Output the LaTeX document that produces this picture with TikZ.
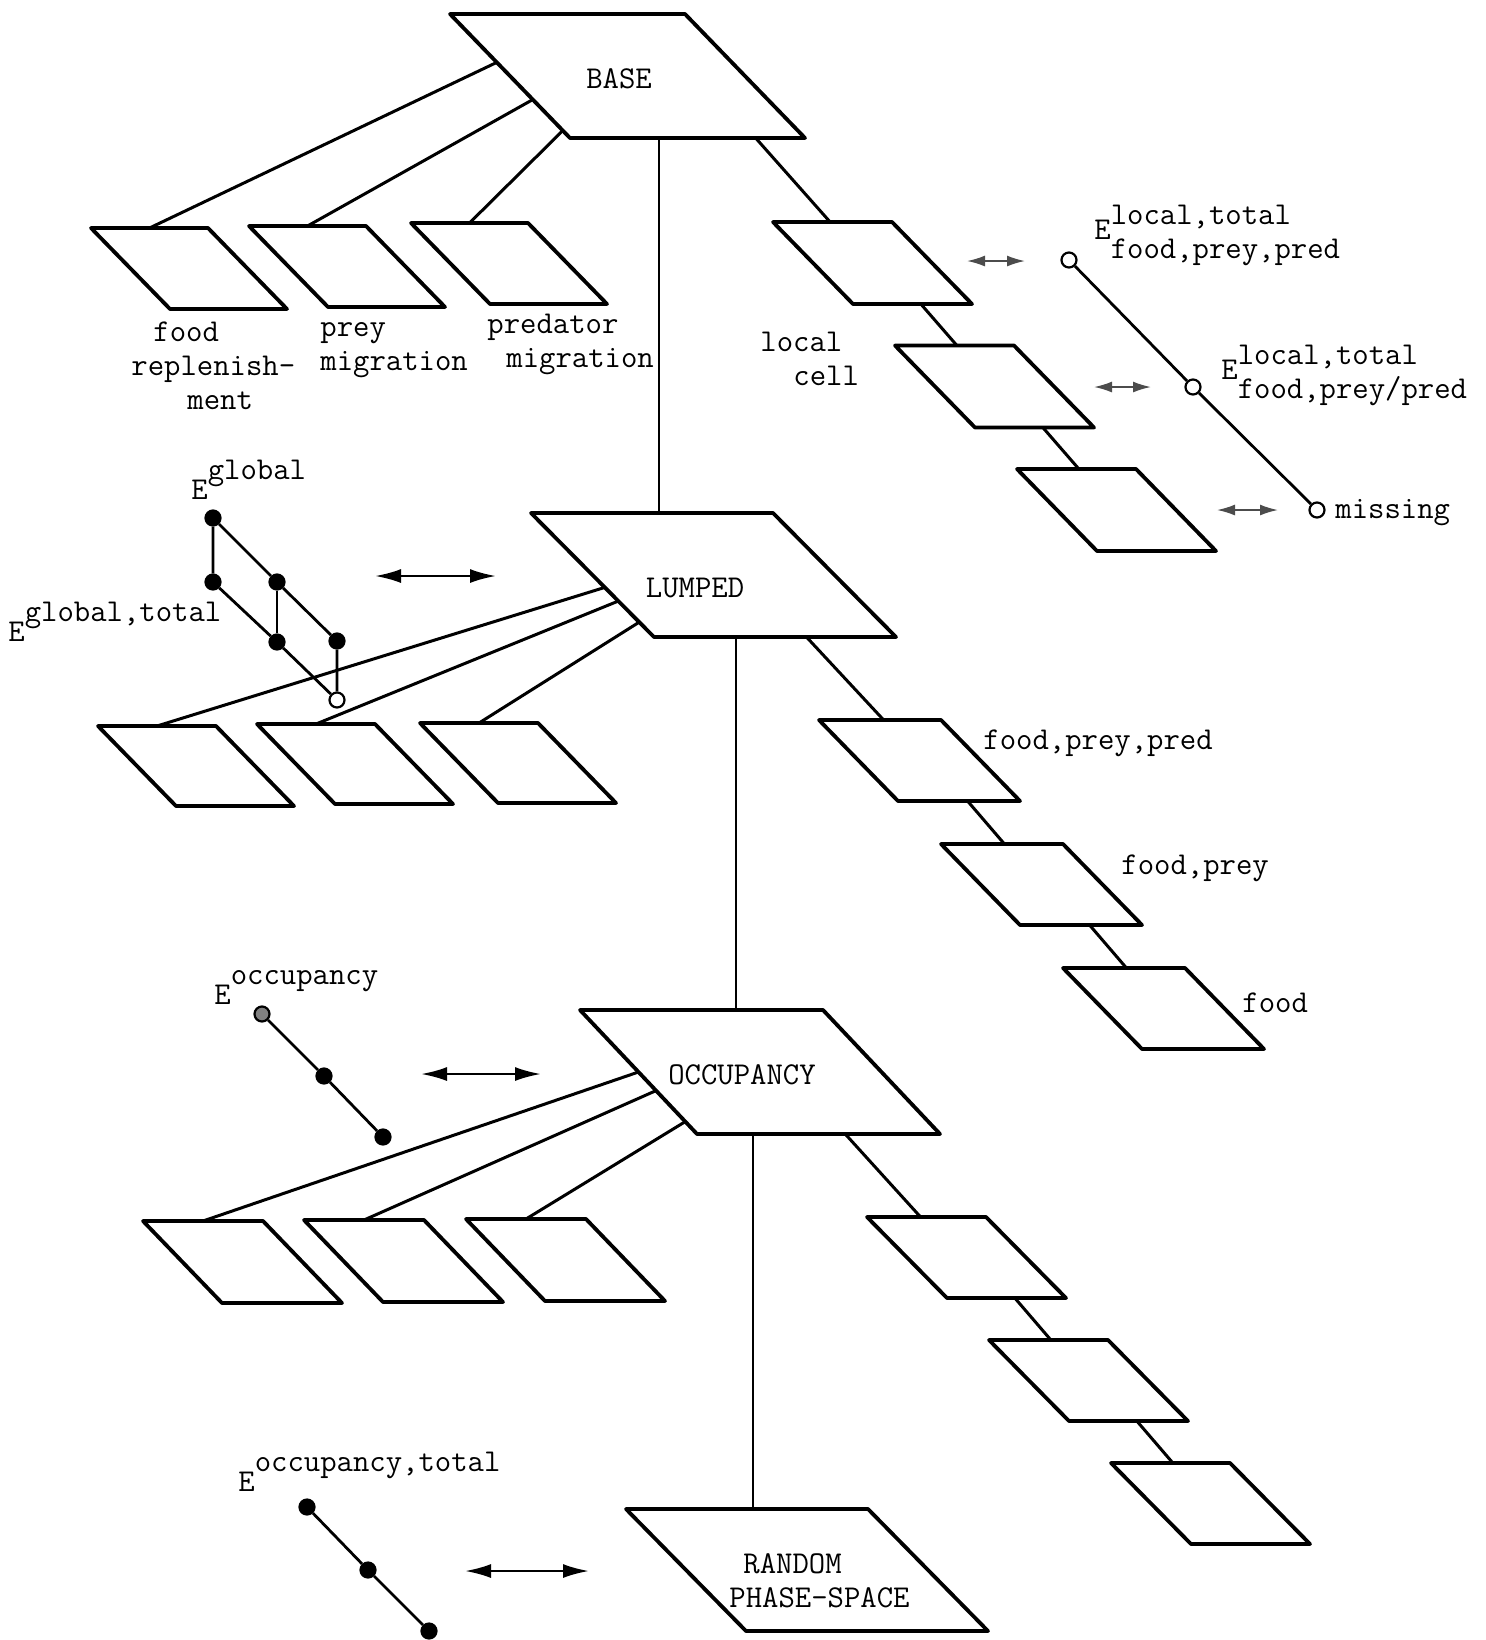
\documentclass[tikz,border=0pt]{standalone}
\usepackage{fontspec}
\usepackage{tikz}
\usetikzlibrary{arrows.meta, calc}
\tikzset{
  plate/.style = {line width=1.9pt, line join=round},
  link/.style = {line width=1.5pt},
  stem/.style = {line width=1pt},
  elink/.style = {line width=1.4pt},
  dot/.style = {circle, draw, fill=black, line width=1.1pt, inner sep=0pt, minimum size=7.5pt},
  hollow/.style = {dot, fill=white},
  twoway/.style = {line width=1.2pt, >={Latex[length=13pt,width=7pt]}, <->},
  faint/.style = {line width=.9pt, draw=black!70, >={Latex[length=9pt,width=5.5pt]}, <->},
  lbl/.style = {inner sep=0pt, font=\ttfamily\fontsize{15.9}{17}\selectfont},
}
% a slanted plate: name, top left x, y, width, height, shift
\newcommand{\plate}[6]{\draw[plate] (#2,#3) coordinate (#1-tl) -- ++(#4,0) coordinate (#1-tr)
  -- ++(#6,#5) coordinate (#1-br) -- ++(-#4,0) coordinate (#1-bl) -- cycle;}
\newcommand{\Eup}[1]{E\raisebox{10pt}{#1}}
\newcommand{\Eupdown}[2]{E\raisebox{-2pt}{\begin{tabular}{@{}l@{}}#1\\#2\end{tabular}}}

\begin{document}
\begin{tikzpicture}[x=0.5pt, y=-0.5pt, every node/.style={lbl}]
\useasboundingbox (0,0) rectangle (1486,1640);

% the four levels
\plate{base}{450}{14}{235}{124}{120}
\plate{lumped}{531}{513}{242}{124}{123}
\plate{occupancy}{580}{1010}{243}{124}{117}
\plate{random}{626}{1509}{242}{122}{120}
\node (tbase) at (619,79) {BASE};
\node (tlumped) at (695,588) {LUMPED};
\node (toccupancy) at (742,1075) {OCCUPANCY};
\node[anchor=north west, align=left] (trandom) at (729,1553) {\hspace{7pt}RANDOM\\PHASE-SPACE};

\draw[stem] ($(base-bl)!.38!(base-br)$) coordinate (s0) -- (s0 |- lumped-tl);
\draw[stem] ($(lumped-bl)!.34!(lumped-br)$) coordinate (s1) -- (s1 |- occupancy-tl);
\draw[stem] ($(occupancy-bl)!.23!(occupancy-br)$) coordinate (s2) -- (s2 |- random-tl);

% left rows
\foreach \n/\x/\y in {p1/91/228, p2/249/226, p3/411/223} {\plate{\n}{\x}{\y}{117}{81}{79}}
\foreach \n/\x/\y in {q1/98/726, q2/257/724, q3/420/723} {\plate{\n}{\x}{\y}{118}{80}{78}}
\foreach \n/\x/\y in {s1/143/1221, s2/304/1220, s3/466/1219} {\plate{\n}{\x}{\y}{120}{82}{79}}
\foreach \f/\k in {.39/1, .69/2, .94/3}
  \draw[link] ($(base-tl)!\f!(base-bl)$) -- ($(p\k-tl)!.5!(p\k-tr)$);
\foreach \f/\k in {.6/1, .71/2, .88/3}
  \draw[link] ($(lumped-tl)!\f!(lumped-bl)$) -- ($(q\k-tl)!.5!(q\k-tr)$);
\foreach \f/\k in {.5/1, .65/2, .9/3}
  \draw[link] ($(occupancy-tl)!\f!(occupancy-bl)$) -- ($(s\k-tl)!.5!(s\k-tr)$);

\node[anchor=north west, align=left] (food) at (131,321) {\hspace{11pt}food\\replenish-\\\hspace{28pt}ment};
\node[anchor=north west, align=left] (prey) at (320,322) {prey\\migration};
\node[anchor=north west, align=left] (pred) at (487,314) {predator\\\hspace{9.5pt}migration};

% right chains
\foreach \i in {1,2,3} {
  \plate{l\i}{651+122*\i}{98.5+123.5*\i}{119}{82}{80}
  \plate{r\i}{697+122*\i}{596+124*\i}{122}{81}{79}
  \plate{t\i}{745+122*\i}{1094+123*\i}{119}{81}{80}
}
\draw[link] ($(base-bl)!.79!(base-br)$) -- ($(l1-tl)!.48!(l1-tr)$);
\draw[link] ($(lumped-bl)!.63!(lumped-br)$) -- ($(r1-tl)!.53!(r1-tr)$);
\draw[link] ($(occupancy-bl)!.61!(occupancy-br)$) -- ($(t1-tl)!.45!(t1-tr)$);
\foreach \c in {l,r,t} \foreach \i/\j in {1/2, 2/3}
  \draw[link] ($(\c\i-bl)!.57!(\c\i-br)$) -- ($(\c\j-tl)!.52!(\c\j-tr)$);

\node[anchor=north west, align=left] (local) at (760,332) {local\\\hspace{16.5pt}cell};
\node[anchor=base west] (fpp) at (983,749) {food,prey,pred};
\node[anchor=base west] (fp) at (1121,874) {food,prey};
\node[anchor=base west] (f) at (1242,1012) {food};

% E sets
\node[anchor=base west] (eglobal) at (191,499) {\Eup{global}};
\node[anchor=base west] (eglobaltotal) at (8,641) {\Eup{global,total}};
\node[anchor=base west] (eocc) at (214,1004) {\Eup{occupancy}};
\node[anchor=base west] (eocctotal) at (238,1491) {\Eup{occupancy,total}};
\node[anchor=base west] (elocal) at (1094,239) {\Eupdown{local,total}{food,prey,pred}};
\node[anchor=base west] (elocalpair) at (1221,379) {\Eupdown{local,total}{food,prey/pred}};
\node[anchor=base west] (missing) at (1335,518) {missing};

\foreach \n/\x/\y in {g1/213/518, g2/213/582, g3/277/582, g4/277/642, g5/337/641}
  \node[dot] (\n) at (\x,\y) {};
\node[hollow] (g6) at (337,700) {};
\draw[elink] (g1)--(g2)--(g4)--(g6)--(g5)--(g3)--(g1);
\draw[elink] (g3)--(g4);

\node[dot, fill=black!50] (o1) at (262,1014) {};
\node[dot] (o2) at (324,1076) {};
\node[dot] (o3) at (383,1137) {};
\draw[elink] (o1)--(o2)--(o3);

\foreach \n/\x/\y in {u1/307/1507, u2/368/1570, u3/429/1631}
  \node[dot] (\n) at (\x,\y) {};
\draw[elink] (u1)--(u2)--(u3);

\foreach \n/\x/\y in {e1/1069/260, e2/1193/387, e3/1317/510}
  \node[hollow] (\n) at (\x,\y) {};
\draw[elink] (e1)--(e2)--(e3);

% two-way arrows
\foreach \i/\x/\X/\y in {1/375/496/576, 2/421/541/1074, 3/465/589/1571} {
  \coordinate (a\i) at (\x,\y); \coordinate (b\i) at (\X,\y);
  \draw[twoway] (a\i) -- (b\i);
}
\foreach \i/\x/\X/\y in {4/967/1025/261, 5/1094/1151/387, 6/1217/1278/510} {
  \coordinate (a\i) at (\x,\y); \coordinate (b\i) at (\X,\y);
  \draw[faint] (a\i) -- (b\i);
}

\end{tikzpicture}
\end{document}
